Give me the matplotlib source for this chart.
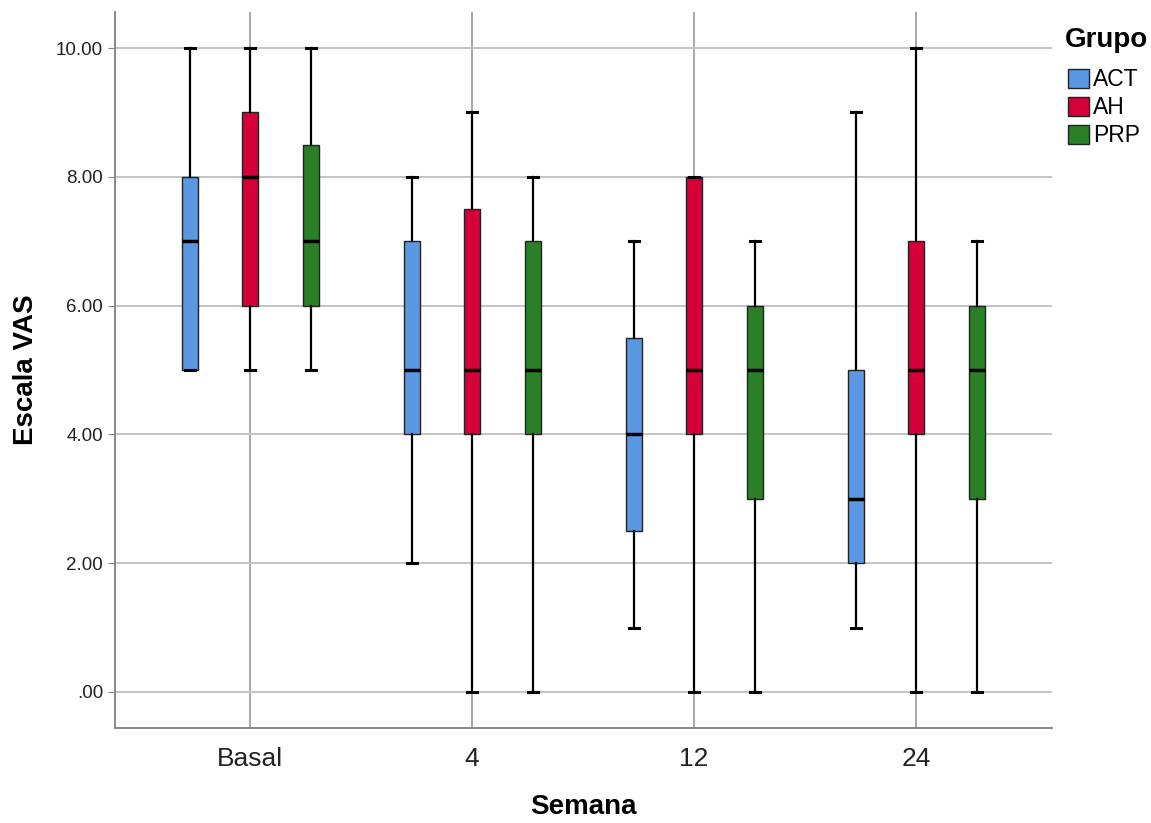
import matplotlib.pyplot as plt
from matplotlib.patches import Patch

plt.rcParams['font.family'] = ['Liberation Sans', 'DejaVu Sans']

semanas = ['Basal', '4', '12', '24']
grupos = ['ACT', 'AH', 'PRP']
colores = ['#5A98E3', '#D5003A', '#2A7F27']

# [whislo, q1, med, q3, whishi] per semana
act = [[5, 5, 7, 8, 10], [2, 4, 5, 7, 8], [1, 2.5, 4, 5.5, 7], [1, 2, 3, 5, 9]]
ah = [[5, 6, 8, 9, 10], [0, 4, 5, 7.5, 9], [0, 4, 5, 8, 8], [0, 4, 5, 7, 10]]
prp = [[5, 6, 7, 8.5, 10], [0, 4, 5, 7, 8], [0, 3, 5, 6, 7], [0, 3, 5, 6, 7]]
datos = [act, ah, prp]

yticks = [0, 2, 4, 6, 8, 10]
ytick_labels = ['.00', '2.00', '4.00', '6.00', '8.00', '10.00']

fig = plt.figure(figsize=(11.51, 8.23), dpi=100)
ax = fig.add_axes([115 / 1151, 95 / 823, 937 / 1151, 716 / 823])

offsets = [-0.27, 0, 0.275]
for g, (serie, color, off) in enumerate(zip(datos, colores, offsets)):
    stats = []
    for v in serie:
        stats.append({'whislo': v[0], 'q1': v[1], 'med': v[2], 'q3': v[3], 'whishi': v[4], 'fliers': []})
    pos = [i + off for i in range(len(semanas))]
    ax.bxp(stats, positions=pos, widths=0.075, patch_artist=True, showfliers=False,
           boxprops=dict(facecolor=color, edgecolor='#222222', linewidth=1.0),
           medianprops=dict(color='black', linewidth=2.5),
           whiskerprops=dict(color='black', linewidth=1.6),
           capprops=dict(color='black', linewidth=2.2),
           capwidths=0.045, zorder=3)

ax.set_xlim(-0.608, 3.613)
ax.set_ylim(-0.56, 10.56)
ax.set_xticks(range(len(semanas)))
ax.set_xticklabels(semanas, fontsize=19, color='#222222')
ax.set_yticks(yticks)
ax.set_yticklabels(ytick_labels, fontsize=13.5, color='#222222')
ax.tick_params(axis='x', length=0, pad=14)
ax.tick_params(axis='y', length=5, color='#888888')

ax.grid(axis='y', color='#c4c4c4', linewidth=1.4, zorder=0)
ax.grid(axis='x', color='#a8a8a8', linewidth=1.4, zorder=0)
ax.set_axisbelow(True)

for s in ['top', 'right']:
    ax.spines[s].set_visible(False)
for s in ['left', 'bottom']:
    ax.spines[s].set_color('#888888')
    ax.spines[s].set_linewidth(1.4)

ax.set_ylabel('Escala VAS', fontsize=20, fontweight='bold', labelpad=12)
ax.set_xlabel('Semana', fontsize=20, fontweight='bold', labelpad=16)

fig.text(1065 / 1151, 1 - 40 / 823, 'Grupo', fontsize=20, fontweight='bold', va='center', ha='left')
handles = [Patch(facecolor=c, edgecolor='#222222', label=g) for g, c in zip(grupos, colores)]
leg = fig.legend(handles=handles, loc='upper left', bbox_to_anchor=(1068 / 1151, 1 - 68 / 823),
                 frameon=False, fontsize=16.5, handlelength=0.9, handleheight=0.9,
                 handletextpad=0.2, labelspacing=0.22, borderaxespad=0, borderpad=0)

fig.savefig('out.png', dpi=100)
